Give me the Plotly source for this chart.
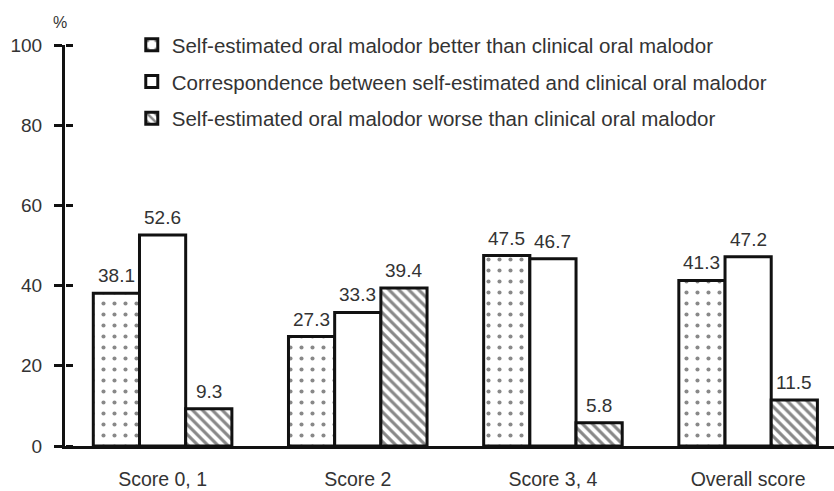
import plotly.graph_objects as go

categories = ["Score 0, 1", "Score 2", "Score 3, 4", "Overall score"]
series_names = [
    "Self-estimated oral malodor better than clinical oral malodor",
    "Correspondence between self-estimated and clinical oral malodor",
    "Self-estimated oral malodor worse than clinical oral malodor",
]
better = [38.1, 27.3, 47.5, 41.3]
correspond = [52.6, 33.3, 46.7, 47.2]
worse = [9.3, 39.4, 5.8, 11.5]
y_ticks = [0, 20, 40, 60, 80, 100]

FONT = "Liberation Sans, Arial, sans-serif"
TXT = "#333333"
BARGAP = 0.29
x_idx = list(range(len(categories)))
series_vals = [better, correspond, worse]
n_series = len(series_vals)
bar_w = (1 - BARGAP) / n_series

patterns = [
    dict(shape=".", size=11, solidity=0.11, fgcolor="#111111", bgcolor="white", fillmode="overlay"),
    dict(shape="", fgcolor="black", bgcolor="white"),
    dict(shape="\\", size=7, solidity=0.45, fgcolor="#111111", bgcolor="white", fillmode="overlay"),
]

fig = go.Figure()
for i, (name, vals) in enumerate(zip(series_names, series_vals)):
    fig.add_trace(go.Bar(
        x=x_idx, y=vals, name=name,
        legendgroup=f"g{i}",
        marker=dict(color="white", line=dict(color="#111111", width=3), pattern=patterns[i]),
        cliponaxis=False,
    ))
    # value labels above each bar
    for xi, v in zip(x_idx, vals):
        fig.add_annotation(x=xi + (i - (n_series - 1) / 2) * bar_w, y=v, text=f"{v:.1f}",
                           xref="x", yref="y", showarrow=False, yanchor="bottom",
                           yshift=5, font=dict(family=FONT, size=19, color=TXT))

fig.add_trace(go.Scatter(x=[0], y=[0], yaxis="y2", mode="markers",
                         marker=dict(opacity=0), showlegend=False, hoverinfo="skip"))

fig.add_annotation(text="%", xref="paper", yref="paper", x=-0.006, y=1.0, yshift=23,
                   yanchor="middle", xanchor="center",
                   showarrow=False, font=dict(family=FONT, size=16, color=TXT))

fig.update_layout(
    width=834, height=491,
    margin=dict(l=65, r=0, t=45, b=45, autoexpand=False),
    paper_bgcolor="white", plot_bgcolor="white",
    barmode="group", bargap=BARGAP, bargroupgap=0.0,
    font=dict(family=FONT, size=19, color=TXT),
    showlegend=True,
    legend=dict(xref="container", yref="container", x=0.158, y=0.949,
                xanchor="left", yanchor="top", bgcolor="rgba(0,0,0,0)",
                font=dict(family=FONT, size=20.5, color=TXT), tracegroupgap=7,
                traceorder="grouped"),
    xaxis=dict(range=[-0.5, 3.44], tickvals=x_idx, ticktext=categories, ticks="",
               showline=True, linecolor="#111111", linewidth=3, showgrid=False, zeroline=False,
               automargin=False,
               ticklabelstandoff=14, tickfont=dict(family=FONT, size=19.5, color=TXT)),
    yaxis=dict(range=[0, 100], tickvals=y_ticks, ticks="outside", ticklen=8, tickwidth=3,
               tickcolor="#111111", showline=True, linecolor="#111111", linewidth=3,
               showgrid=False, zeroline=False, ticklabelstandoff=8, automargin=False,
               tickfont=dict(family=FONT, size=19, color=TXT)),
    yaxis2=dict(range=[0, 100], tickvals=y_ticks, ticks="outside", ticklen=7, tickwidth=3,
                tickcolor="#111111", overlaying="y", side="right", anchor="free", position=0,
                showticklabels=False, showgrid=False, zeroline=False, showline=False,
                automargin=False),
)
fig.write_html("out.html", config={"displayModeBar": False},
               post_script="document.body.style.margin='0';document.body.style.overflow='hidden';")
